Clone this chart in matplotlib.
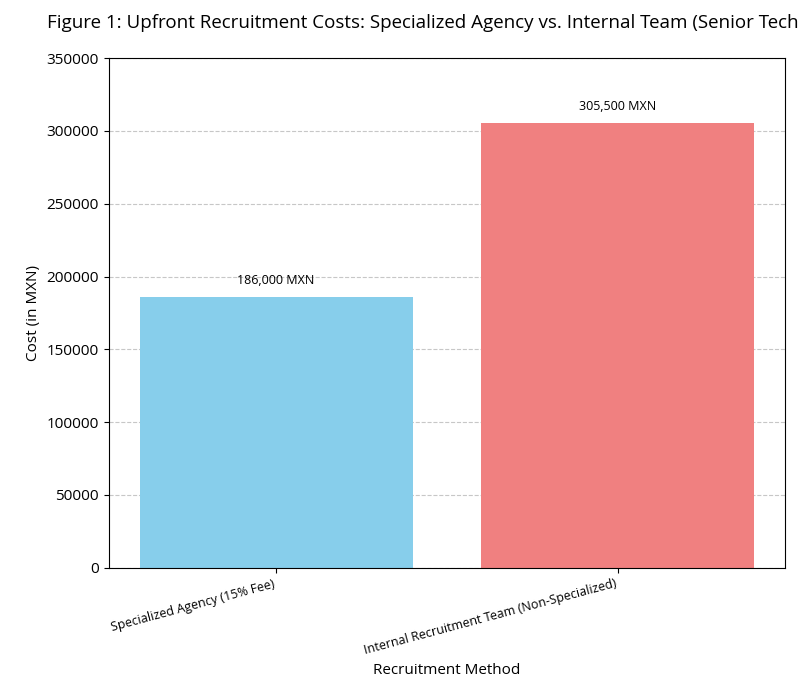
import matplotlib
matplotlib.use("Agg")
import matplotlib.pyplot as plt

plt.rcParams["font.family"] = "Open Sans"

methods = ["Specialized Agency (15% Fee)", "Internal Recruitment Team (Non-Specialized)"]
costs = [186000, 305500]
colors = ["skyblue", "lightcoral"]

fig = plt.figure(figsize=(8, 7), dpi=100)
ax = fig.add_axes([0.136, 0.189, 0.845, 0.728])
bars = ax.bar(methods, costs, color=colors, width=0.8)
for b, v in zip(bars, costs):
    ax.text(b.get_x() + b.get_width() / 2, v + 7000, f"{v:,} MXN",
            ha="center", va="bottom", fontsize=9)
ax.set_ylim(0, 350000)
ax.set_yticks(range(0, 350001, 50000))
ax.tick_params(axis="y", labelsize=11)
ax.grid(axis="y", linestyle="--", alpha=0.7)
ax.set_axisbelow(True)
plt.setp(ax.get_xticklabels(), rotation=15, ha="right", fontsize=9)
ax.set_ylabel("Cost (in MXN)", fontsize=11)
ax.set_xlabel("Recruitment Method", fontsize=11)
ax.set_title("Figure 1: Upfront Recruitment Costs: Specialized Agency vs. Internal Team (Senior Tech Role)",
             fontsize=13.5, pad=22)
fig.savefig("out.png", dpi=100)
